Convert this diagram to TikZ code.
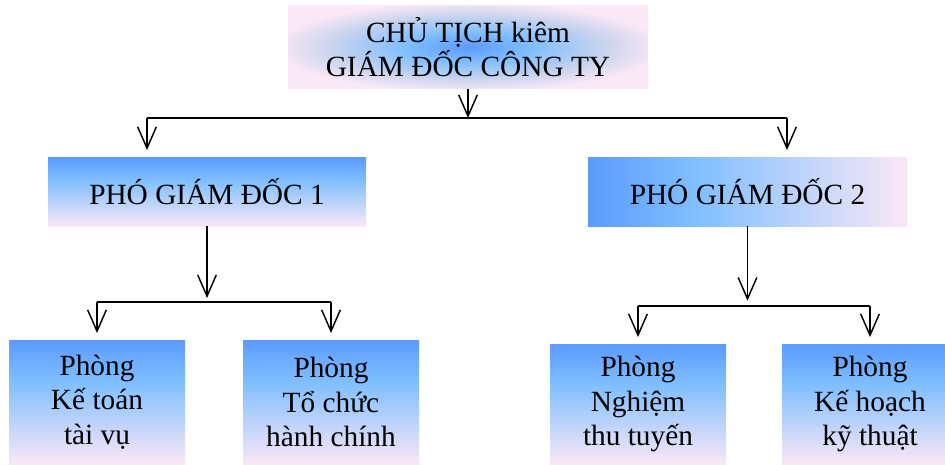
\documentclass[tikz,border=0pt]{standalone}
\usepackage{fontspec}
\setmainfont{Liberation Serif}
\usetikzlibrary{arrows.meta, positioning}

\definecolor{gdblue}{RGB}{91,155,255}
\definecolor{gdsky}{RGB}{128,191,255}
\definecolor{gdgrey}{RGB}{200,212,238}
\definecolor{gdpink}{RGB}{250,232,246}

\pgfdeclareverticalshading{gdvert}{100bp}{color(0bp)=(gdpink); color(25bp)=(gdpink); color(58bp)=(gdsky); color(75bp)=(gdblue); color(100bp)=(gdblue)}
\pgfdeclareradialshading{gdround}{\pgfpoint{0bp}{0bp}}{color(0bp)=(gdblue); color(9bp)=(gdsky); color(19bp)=(gdgrey); color(27bp)=(gdpink); color(50bp)=(gdpink)}

\begin{document}
\begin{tikzpicture}[x=0.75pt, y=-0.75pt,
    gd/.style={shading=gdvert, align=center, inner sep=0pt, font=\fontsize{22}{26}\selectfont},
    phong/.style={gd, minimum width=132pt, minimum height=93pt},
    arr/.style={-{Straight Barb[length=16pt,width=14pt]}, line width=1.1pt}]
                \useasboundingbox (0,0) rectangle (945,464);

                \node (chutich) [gd, shading=gdround, minimum width=270pt, minimum height=62pt] at (468,47) {CHỦ TỊCH kiêm\\GIÁM ĐỐC CÔNG TY};
                \node (pgd1) [gd, minimum width=238.5pt, minimum height=51.75pt] at (207,191.5) {PHÓ GIÁM ĐỐC 1};
                \node (pgd2) [gd, shading angle=90, minimum width=239.25pt, minimum height=51.75pt] at (747.5,191.5) {PHÓ GIÁM ĐỐC 2};

                \node (ketoan) [phong] at (97,402) {Phòng\\Kế toán\\tài vụ};
                \node (tochuc) [phong] at (331,402) {Phòng\\Tổ chức\\hành chính};
                \node (nghiem) [phong, minimum height=90pt] at (638,404) {Phòng\\Nghiệm\\thu tuyến};
                \node (kehoach) [phong, minimum height=90pt] at (870,404) {Phòng\\Kế hoạch\\kỹ thuật};

                \coordinate (topl) at (147,118);
                \coordinate (topr) at (787,118);
                \coordinate (p1l) at (97,302);
                \coordinate (p1r) at (331,302);
                \coordinate (p2l) at (638,306);
                \coordinate (p2r) at (870,306);

                \draw [line width=1.1pt] (topl) -- (topr) (p1l) -- (p1r) (p2l) -- (p2r);

                \path [arr]
                    (chutich) edge (chutich |- topl)
                    (topl) edge [shorten >=5pt] (topl |- pgd1.north)
                    (topr) edge [shorten >=5pt] (topr |- pgd2.north)
                    (pgd1) edge [shorten >=3pt] (pgd1 |- p1l)
                    (pgd2) edge [shorten >=4pt] (pgd2 |- p2l)
                    (p1l) edge [shorten >=5pt] (ketoan)
                    (p1r) edge [shorten >=5pt] (tochuc)
                    (p2l) edge [shorten >=5pt] (nghiem)
                    (p2r) edge [shorten >=5pt] (kehoach);
            \end{tikzpicture}
\end{document}
